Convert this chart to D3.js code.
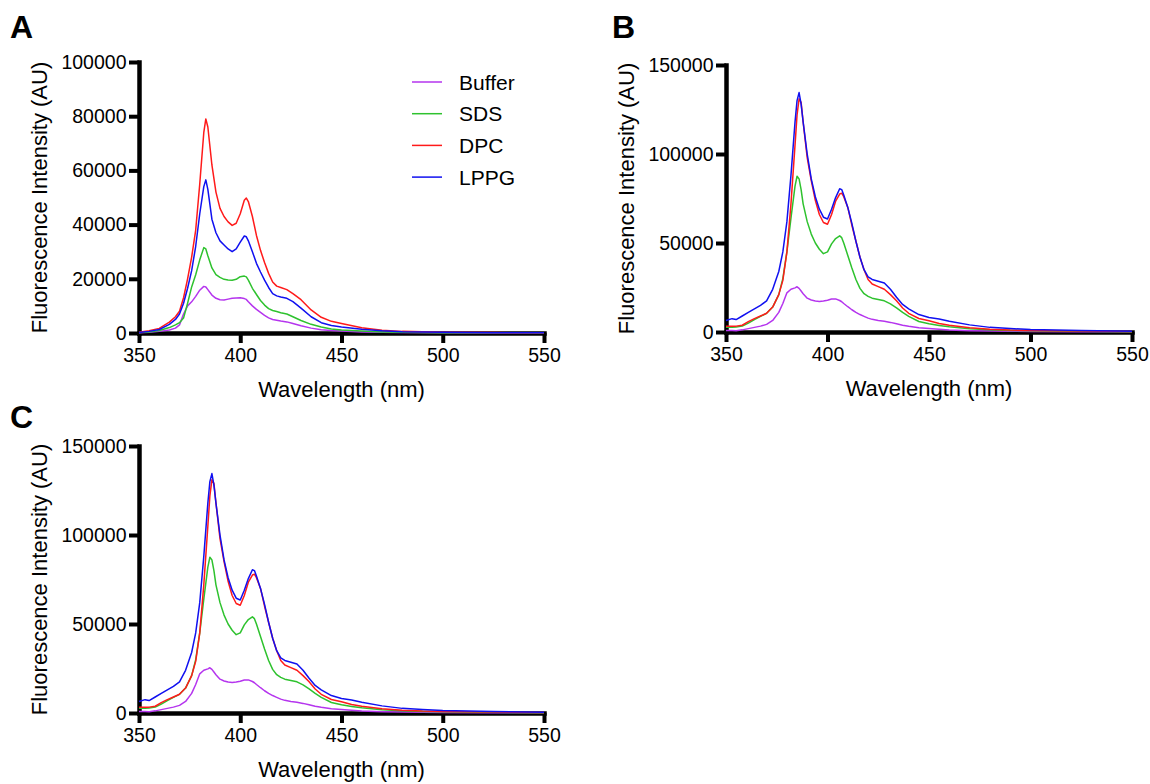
<html>
<head>
  <script src="https://d3js.org/d3.v7.min.js"></script>
  <style>
    body { margin: 0; background: #fff; }
    svg text { font-family: "Liberation Sans", Arial, sans-serif; fill: #000; }
    .axis .domain { stroke: #000; stroke-width: 4.5; stroke-linecap: square; }
    .axis .tick line { stroke: #000; stroke-width: 4; }
    .axis .tick text { font-size: 19.5px; }
    .spectrum { fill: none; stroke-width: 1.5; stroke-linejoin: round; }
  </style>
</head>
<body>
<svg id="fig" width="1150" height="784"></svg>

<script>
  // panel A: wavelengths (nm) and intensities (AU)
  const wavelengthA = [350,355,360,365,368,370,372,374,376,378,380,382,383,384,386,388,390,392,394,396,398,400,402,403,404,406,408,410,412,414,416,418,420,423,426,430,435,440,445,450,460,470,480,500,525,550];
  const bufferA = [100,300,600,1100,1800,3000,7000,10000,11500,13500,15800,17200,17000,16000,14000,12800,12300,12200,12500,12800,12900,13000,12700,12400,11500,10000,8700,7600,6500,5600,5000,4700,4400,4100,3500,2700,1800,1200,900,700,400,250,150,80,40,20];
  const sdsA = [150,400,900,2000,3000,3800,5500,11000,17000,21500,27000,31500,31000,28500,24000,21500,20500,19800,19600,19500,19800,20800,21000,20700,19500,16500,14200,12000,10300,9000,8300,7900,7500,7000,6000,4600,3200,2200,1500,1100,700,400,250,120,60,40];
  const dpcA = [300,800,1700,4000,6000,8000,13000,20000,28000,38000,55000,74000,79000,76000,62000,52000,46000,43000,41000,39700,40500,44000,49000,49800,48500,43000,36000,30500,26000,22000,18800,17300,16800,16000,14500,12300,8500,5800,4300,3500,1900,1000,600,300,150,100];
  const lppgA = [200,600,1300,3200,5000,7000,11000,16500,23000,32000,44000,54000,56500,53000,42000,37000,34000,32500,31000,30000,31000,33500,35800,35500,34000,30000,25700,22500,19500,16800,14500,13700,13300,12800,11600,9200,6000,3800,2800,2200,1400,800,500,250,120,80];

  // panels B and C show the same spectra
  const wavelengthB = [350,353,355,358,361,364,367,370,373,376,378,380,382,384,385,386,387,388,390,392,394,396,398,400,402,404,406,407,408,410,412,414,416,418,420,422,425,428,431,434,437,440,445,450,455,460,470,480,490,500,525,550];
  const bufferB = [900,800,700,1200,1900,2600,3300,4300,6500,11000,16000,22000,24000,24800,25400,24500,23000,21500,19000,18000,17400,17200,17400,17800,18500,18600,17700,17000,16000,14200,12500,11000,9800,8800,7800,7100,6500,6000,5400,4600,3800,3200,2400,1900,1500,1100,700,500,400,300,200,100];
  const sdsB = [2600,2600,2800,3300,5000,7000,8800,10500,14000,21000,30000,45000,64000,82000,87500,86000,80000,72000,62000,55000,50000,46500,44000,45000,49500,52500,54000,53000,50000,43000,36000,29500,24500,21500,20000,19000,18300,17500,15800,13500,11000,8800,5900,4600,3700,2900,1800,1200,900,700,400,200];
  const dpcB = [3300,3300,3300,3800,5800,7500,9000,10500,14000,21000,29000,45000,72000,105000,122000,131000,129000,118000,98000,85000,74000,66000,61500,60500,66000,73500,77500,78000,76000,70000,60000,51000,42000,35000,29500,27000,25500,24000,21000,17500,13500,10500,7600,6300,4800,3800,2400,1600,1100,900,500,300];
  const lppgB = [6500,7500,7000,9000,11000,13000,15000,17500,24000,34000,45000,62000,88000,118000,130000,134500,128000,118000,100000,86000,76000,69000,64500,63500,69000,75500,80500,80000,77000,70000,61000,51000,42000,35000,31000,29500,28500,27500,24000,19500,15500,13000,9800,8200,7300,6000,4000,2600,1900,1400,800,400];

  const seriesNames = ["Buffer", "SDS", "DPC", "LPPG"];
  const seriesColors = ["#b535ee", "#2ec22e", "#ff1a1a", "#1010f0"];
  const xTicks = [350, 400, 450, 500, 550];
  const yTicksA = [0, 20000, 40000, 60000, 80000, 100000];
  const yTicksBC = [0, 50000, 100000, 150000];

  const svg = d3.select("svg#fig");

  function drawPanel(p) {
    const xScale = d3.scaleLinear().domain([350, 550]).range([p.left, p.right]);
    const yScale = d3.scaleLinear().domain([0, p.yMax]).range([p.bottom, p.top]);

    let g = svg.append("g").attr("class", "panel");

    let bottomAxis = d3.axisBottom(xScale).tickValues(xTicks).tickSize(10).tickSizeOuter(0).tickPadding(5);
    let leftAxis = d3.axisLeft(yScale).tickValues(p.yTicks).tickSize(10).tickSizeOuter(0).tickPadding(2.5).tickFormat(d3.format("d"));

    g.append("g")
      .attr("class", "axis")
      .attr("transform", "translate(0," + p.bottom + ")")
      .call(bottomAxis);
    g.append("g")
      .attr("class", "axis")
      .attr("transform", "translate(" + p.left + ",0)")
      .call(leftAxis);

    // spectra
    const line = d3.line()
      .x(d => xScale(d[0]))
      .y(d => yScale(d[1]));
    p.series.forEach((vals, i) => {
      g.append("path")
        .attr("class", "spectrum")
        .attr("stroke", seriesColors[i])
        .attr("d", line(p.wavelength.map((w, j) => [w, vals[j]])));
    });

    // axis titles
    g.append("text")
      .attr("x", (p.left + p.right) / 2)
      .attr("y", p.bottom + 64)
      .attr("text-anchor", "middle")
      .style("font-size", "22px")
      .text("Wavelength (nm)");
    g.append("text")
      .attr("transform", "translate(" + (p.left - 92) + "," + ((p.top + p.bottom) / 2) + ") rotate(-90)")
      .attr("text-anchor", "middle")
      .style("font-size", "22px")
      .text("Fluorescence Intensity (AU)");

    // panel letter
    g.append("text")
      .attr("x", p.letterX)
      .attr("y", p.letterY)
      .style("font-size", "32px")
      .style("font-weight", "bold")
      .text(p.letter);
  }

  drawPanel({letter: "A", letterX: 10, letterY: 38, left: 139, right: 544, top: 62, bottom: 333,
             yMax: 100000, yTicks: yTicksA, wavelength: wavelengthA, series: [bufferA, sdsA, dpcA, lppgA]});
  drawPanel({letter: "B", letterX: 612, letterY: 38, left: 726, right: 1132, top: 65, bottom: 332,
             yMax: 150000, yTicks: yTicksBC, wavelength: wavelengthB, series: [bufferB, sdsB, dpcB, lppgB]});
  drawPanel({letter: "C", letterX: 10, letterY: 428, left: 139, right: 544, top: 446, bottom: 713,
             yMax: 150000, yTicks: yTicksBC, wavelength: wavelengthB, series: [bufferB, sdsB, dpcB, lppgB]});

  // legend in panel A
  let legend = svg.append("g").attr("class", "legend");
  seriesNames.forEach((name, i) => {
    const ly = 82 + i * 31.7;
    legend.append("line")
      .attr("x1", 412).attr("x2", 442)
      .attr("y1", ly).attr("y2", ly)
      .attr("stroke", seriesColors[i])
      .attr("stroke-width", 1.5);
    legend.append("text")
      .attr("x", 459)
      .attr("y", ly + 7.5)
      .style("font-size", "21px")
      .text(name);
  });
</script>
</body>
</html>
